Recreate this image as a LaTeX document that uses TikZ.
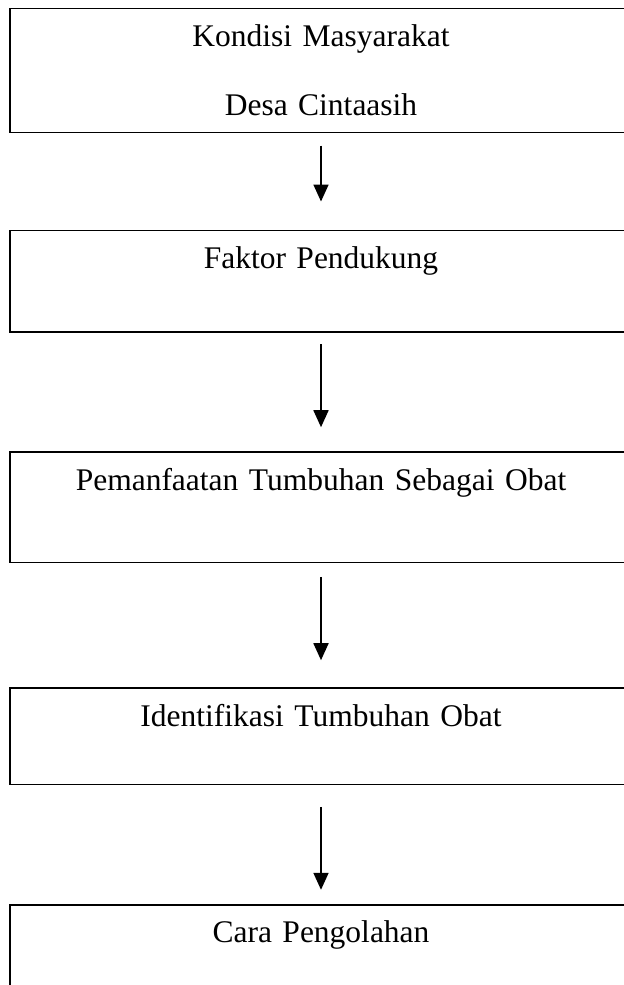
\documentclass[tikz,border=0pt]{standalone}
\usepackage{fontspec}
\setmainfont{Liberation Serif}
\usetikzlibrary{positioning,arrows.meta}

\begin{document}
\begin{tikzpicture}[-{Triangle[length=8.5pt,width=7.5pt]}, line width=0.9pt,
  stage/.style={draw, line width=0.8pt, outer sep=0pt, text width=311pt, inner sep=0pt, align=center,
    text height=19pt, font=\fontsize{15.75pt}{34.75pt}\selectfont}]
\useasboundingbox (0,0) rectangle (312pt,-492.5pt);
\node[stage, text depth=43pt, anchor=north] (kondisi) at (160.5pt,-4.25pt) {Kondisi Masyarakat\\Desa Cintaasih};
\node[stage, text depth=31.85pt, below = 49pt of kondisi] (faktor) {Faktor Pendukung};
\node[stage, text depth=36.1pt, below = 60pt of faktor] (manfaat) {Pemanfaatan Tumbuhan Sebagai Obat};
\node[stage, text depth=29.1pt, below = 62.9pt of manfaat] (identifikasi) {Identifikasi Tumbuhan Obat};
\node[stage, text depth=60pt, below = 60.2pt of identifikasi] (olah) {Cara Pengolahan};
\draw[shorten <=6.5pt, shorten >=14.5pt] (kondisi) -- (faktor);
\draw[shorten <=6pt, shorten >=12.5pt] (faktor) -- (manfaat);
\draw[shorten <=7.25pt, shorten >=14pt] (manfaat) -- (identifikasi);
\draw[shorten <=11.25pt, shorten >=7.5pt] (identifikasi) -- (olah);
\end{tikzpicture}
\end{document}
